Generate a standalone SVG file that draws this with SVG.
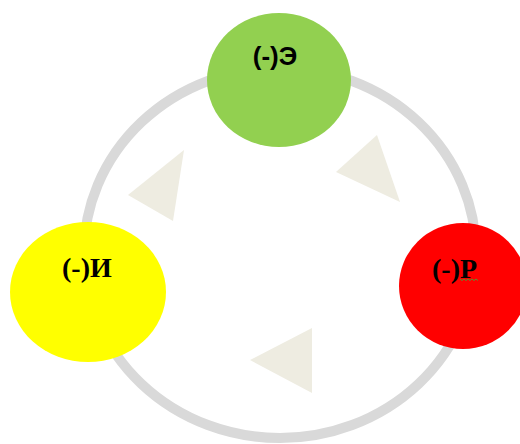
<svg xmlns="http://www.w3.org/2000/svg" width="520" height="444" viewBox="0 0 520 444">
  <style>
    .ring { fill: none; stroke: #d9d9d9; stroke-width: 10; }
    .arrow { fill: #eeece1; }
    .label { font-family: "Liberation Serif", "DejaVu Serif", serif; font-weight: bold; font-size: 28px; fill: #000; }
    .label-sans { font-family: "Liberation Sans", "DejaVu Sans", sans-serif; font-weight: bold; font-size: 26px; fill: #000; }
  </style>
  <rect width="520" height="444" fill="#ffffff"/>

  <!-- cycle ring and direction arrows -->
  <g id="connectors">
    <ellipse class="ring" cx="280" cy="253" rx="196" ry="185"/>
    <polygon class="arrow" points="184,150 128,195 173,221"/>
    <polygon class="arrow" points="377,135 336,172 400,202"/>
    <polygon class="arrow" points="312,328 250,360 312,393"/>
  </g>

  <g id="node-e">
    <ellipse cx="279" cy="80" rx="72" ry="67" fill="#92d050"/>
    <text class="label-sans" x="275" y="65" text-anchor="middle">(-)Э</text>
  </g>

  <g id="node-r">
    <ellipse cx="463" cy="286" rx="64" ry="63" fill="#ff0000"/>
    <text class="label" x="432" y="278">(-)Р</text>
    <path d="M460,279 l2,1.5 l2,-1.5 l2,1.5 l2,-1.5 l2,1.5 l2,-1.5 l2,1.5 l2,-1.5 l2,1.5" fill="none" stroke="#5f8f2f" stroke-width="1"/>
  </g>

  <g id="node-i">
    <ellipse cx="88" cy="292" rx="78" ry="70" fill="#ffff00"/>
    <text class="label" x="62" y="277">(-)И</text>
  </g>
</svg>
